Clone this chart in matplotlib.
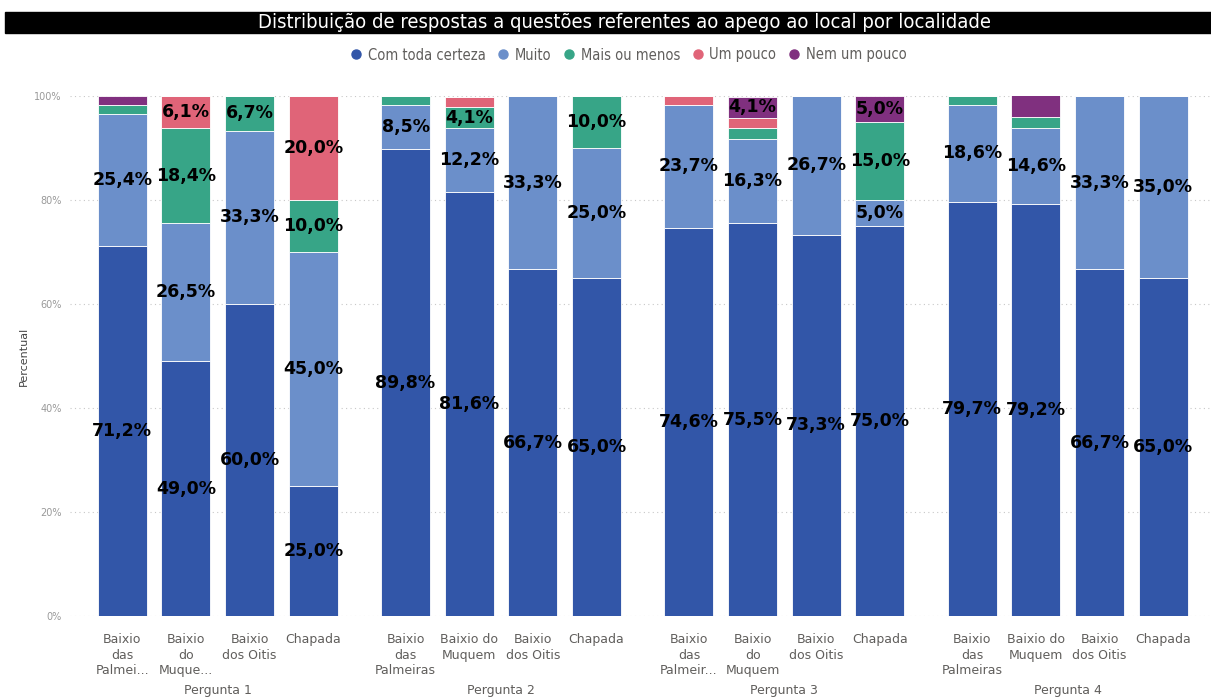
import matplotlib.pyplot as plt
import numpy as np

perguntas = ["Pergunta 1", "Pergunta 2", "Pergunta 3", "Pergunta 4"]
series = ["Com toda certeza", "Muito", "Mais ou menos", "Um pouco", "Nem um pouco"]
colors = ["#3256A8", "#6B8FCA", "#37A587", "#E06478", "#80307F"]

# axis labels for each locality, wrapped/truncated per question group
tick_labels = [
    ["Baixio\ndas\nPalmei...", "Baixio\ndo\nMuque...", "Baixio\ndos Oitis", "Chapada"],
    ["Baixio\ndas\nPalmeiras", "Baixio do\nMuquem", "Baixio\ndos Oitis", "Chapada"],
    ["Baixio\ndas\nPalmeir...", "Baixio\ndo\nMuquem", "Baixio\ndos Oitis", "Chapada"],
    ["Baixio\ndas\nPalmeiras", "Baixio do\nMuquem", "Baixio\ndos Oitis", "Chapada"],
]

# percent per answer, rows = localities (BP, BM, BO, Chapada)
p1 = [[71.2, 25.4, 1.7, 0.0, 1.7],
      [49.0, 26.5, 18.4, 6.1, 0.0],
      [60.0, 33.3, 6.7, 0.0, 0.0],
      [25.0, 45.0, 10.0, 20.0, 0.0]]
p2 = [[89.8, 8.5, 1.7, 0.0, 0.0],
      [81.6, 12.2, 4.1, 2.0, 0.0],
      [66.7, 33.3, 0.0, 0.0, 0.0],
      [65.0, 25.0, 10.0, 0.0, 0.0]]
p3 = [[74.6, 23.7, 0.0, 1.7, 0.0],
      [75.5, 16.3, 2.0, 2.0, 4.1],
      [73.3, 26.7, 0.0, 0.0, 0.0],
      [75.0, 5.0, 15.0, 0.0, 5.0]]
p4 = [[79.7, 18.6, 1.7, 0.0, 0.0],
      [79.2, 14.6, 2.1, 0.0, 4.2],
      [66.7, 33.3, 0.0, 0.0, 0.0],
      [65.0, 35.0, 0.0, 0.0, 0.0]]
data = np.array([p1, p2, p3, p4])

min_label = 4.0
hidden_labels = {(3, 1, 4)}  # too tight to show

fig = plt.figure(figsize=(12.11, 6.98), dpi=100)
W, H = 1211, 698
ax = fig.add_axes([70 / W, 1 - 616 / H, (W - 70) / W, (616 - 96) / H])

group_step = 4.45
bar_w = 0.77
x_off = 0.82

for g in range(4):
    xs = g * group_step + np.arange(4)
    bottom = np.zeros(4)
    for s in range(5):
        vals = data[g, :, s]
        ax.bar(xs, vals, bar_w, bottom=bottom, color=colors[s], edgecolor="white", linewidth=0.6)
        for b in range(4):
            v = vals[b]
            if v >= min_label and (g, b, s) not in hidden_labels:
                ax.text(xs[b], bottom[b] + v / 2, f"{v:.1f}%".replace(".", ","),
                        ha="center", va="center", fontsize=12.5, fontweight="bold", color="black")
        bottom += vals
    for b in range(4):
        ax.text(xs[b], -3.3, tick_labels[g][b], ha="center", va="top", fontsize=9,
                color="#605E5C", linespacing=1.25)
    ax.text(xs.mean(), -13.0, perguntas[g], ha="center", va="top", fontsize=9, color="#605E5C")

ax.set_xlim(-x_off, 3 * group_step + 3 + 0.75)
ax.set_ylim(0, 100)
ax.set_xticks([])
ax.set_yticks(range(0, 101, 20))
ax.set_yticklabels([f"{t}%" for t in range(0, 101, 20)], fontsize=7, color="#999999")
ax.tick_params(axis="y", length=0, pad=6)
ax.grid(axis="y", linestyle=(0, (1, 3)), color="#C8C8C8", linewidth=0.8)
ax.set_axisbelow(True)
for sp in ax.spines.values():
    sp.set_visible(False)
ax.set_ylabel("Percentual", fontsize=8, color="#444444", labelpad=4)

# title band
fig.patches.append(plt.Rectangle((5 / W, 1 - 33 / H), 1 - 5 / W, 21 / H, transform=fig.transFigure,
                                 color="black", zorder=0))
fig.text(624 / W, 1 - 22.5 / H, "Distribuição de respostas a questões referentes ao apego ao local por localidade",
         ha="center", va="center", color="white", fontsize=14.5, fontstretch="condensed")

handles = [plt.Line2D([], [], marker="o", linestyle="", markersize=6.5, color=c) for c in colors]
fig.legend(handles, series, loc="center", bbox_to_anchor=(624 / W, 1 - 55 / H), ncol=5,
           frameon=False, handletextpad=-0.2, columnspacing=0.2, labelcolor="#605E5C",
           prop={"size": 10.5, "stretch": "condensed"})

fig.savefig("out.png", dpi=100)
